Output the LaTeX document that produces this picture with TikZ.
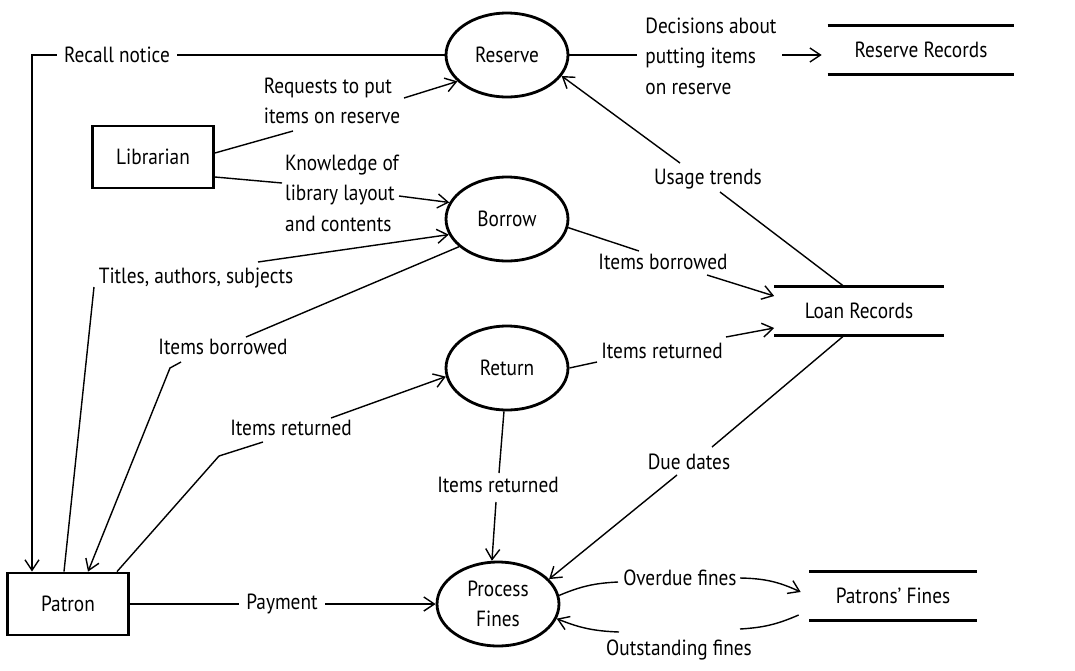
\documentclass[tikz,border=0pt]{standalone}
\usepackage{fontspec}
\setmainfont{PT Sans}[FakeStretch=0.88]
\usepackage{tikz}
\usetikzlibrary{arrows.meta,shapes.geometric,positioning}
\tikzset{
>={Straight Barb[length=6pt,width=8pt]},
  process/.style={
    ellipse,
    draw=black, line width=1.6pt,
    minimum width=2.44cm,
    minimum height=1.68cm,
    inner sep=0pt,
    align=center},
  entity/.style={
    rectangle,
    draw=black, line width=1.6pt,
    minimum width=2.42cm,
    minimum height=1.24cm},
  store/.style={
    rectangle,
    minimum height=0.97cm},
  storeline/.style={draw, line width=1.6pt},
  flow/.style={draw, line width=0.8pt},
  flowlabel/.style={inner sep=4pt, align=left},
}

\begin{document}
\begin{tikzpicture}
  [x=0.02cm, y=-0.02cm, font=\fontsize{12.5}{17.3}\selectfont]
  \useasboundingbox (0,0) rectangle (1075,670);

  % processes
  \node[process] (reserve) at (507,55)  {Reserve};
  \node[process] (borrow)  at (507,219) {Borrow};
  \node[process] (return)  at (507,368) {Return};
  \node[process] (fines)   at (498,604) {Process\\Fines};

  % external entities
  \node[entity] (librarian) at (153,157) {Librarian};
  \node[entity] (patron)    at (68,604)  {Patron};

  % data stores
  \node[store, minimum width=3.72cm] (resrec)  at (921,50)  {Reserve Records};
  \node[store, minimum width=3.38cm] (loanrec) at (859,311) {Loan Records};
  \node[store, minimum width=3.34cm] (finerec) at (893,596) {Patrons’ Fines};
  \foreach \s in {resrec,loanrec,finerec}
    \draw[storeline] (\s.north west) -- (\s.north east)
                     (\s.south west) -- (\s.south east);

  % flow labels
  \node[flowlabel] (lrecall)  at (117,55)  {Recall notice};
  \node[flowlabel] (lrequest) at (332,101) {Requests to put\\items on reserve};
  \node[flowlabel] (lknow)    at (342,193) {Knowledge of\\library layout\\and contents};
  \node[flowlabel] (ltitles)  at (196,278) {Titles, authors, subjects};
  \node[flowlabel] (lborp)    at (223,347) {Items borrowed};
  \node[flowlabel] (lretp)    at (291,428) {Items returned};
  \node[flowlabel] (lpay)     at (282,604) {Payment};
  \node[flowlabel] (lretf)    at (498,485) {Items returned};
  \node[flowlabel] (lborl)    at (663,262) {Items borrowed};
  \node[flowlabel] (lretl)    at (662,351) {Items returned};
  \node[flowlabel] (lusage)   at (708,179) {Usage trends};
  \node[flowlabel] (ldecide)  at (711,56)  {Decisions about\\putting items\\on reserve};
  \node[flowlabel] (ldue)     at (689,462) {Due dates};
  \node[flowlabel] (lover)    at (680,578) {Overdue fines};
  \node[flowlabel] (lout)     at (679,650) {Outstanding fines};

  % break points of the flows
  \coordinate (req-in)  at (293,131); \coordinate (req-out) at (404,98);
  \coordinate (know-in) at (282,183); \coordinate (know-out) at (399,196);
  \coordinate (tit-in)  at (94,287);  \coordinate (tit-out) at (258,262);
  \coordinate (bp-in)   at (246,337); \coordinate (bp-out)  at (181,362);
  \coordinate (bp-bend) at (170,368);
  \coordinate (rp-bend) at (219,456); \coordinate (rp-in)   at (263,442);
  \coordinate (rp-out)  at (331,418);
  \coordinate (rf-in)   at (499,473); \coordinate (rf-out)  at (496,502);
  \coordinate (bl-in)   at (639,251); \coordinate (bl-out)  at (707,275);
  \coordinate (rl-in)   at (597,362); \coordinate (rl-out)  at (726,337);
  \coordinate (ut-in)   at (720,192); \coordinate (ut-out)  at (680,163);
  \coordinate (dec-in)  at (637,55);  \coordinate (dec-out) at (782,55);
  \coordinate (dd-in)   at (712,447); \coordinate (dd-out)  at (677,475);
  \coordinate (od-in)   at (618,582); \coordinate (od-out)  at (740,578);
  \coordinate (os-in)   at (740,629); \coordinate (os-out)  at (619,632);

  % flows
  \draw[flow] (reserve.west) -- (lrecall.east);
  \draw[flow,->] (lrecall.west) -| ([xshift=-0.72cm]patron.north);
  \draw[flow] ([yshift=0.08cm]librarian.east) -- (req-in);
  \draw[flow,->] (req-out) -- (reserve.208);
  \draw[flow] ([yshift=-0.4cm]librarian.east) -- (know-in);
  \draw[flow,->] (know-out) -- (borrow.164);
  \draw[flow] ([xshift=-0.08cm]patron.north) -- (tit-in);
  \draw[flow,->] (tit-out) -- (borrow.195);
  \draw[flow] (borrow.210) -- (bp-in);
  \draw[flow,->] (bp-out) -- (bp-bend) -- ([xshift=0.4cm]patron.north);
  \draw[flow] ([xshift=0.98cm]patron.north) -- (rp-bend) -- (rp-in);
  \draw[flow,->] (rp-out) -- (return.188);
  \draw[flow] (patron.east) -- (lpay.west);
  \draw[flow,->] (lpay.east) -- (fines.west);
  \draw[flow] (return.266) -- (rf-in);
  \draw[flow,->] (rf-out) -- (fines.98);
  \draw[flow] (borrow.352) -- (bl-in);
  \draw[flow,->] (bl-out) -- ([yshift=0.3cm]loanrec.west);
  \draw[flow] (return.east) -- (rl-in);
  \draw[flow,->] (rl-out) -- ([yshift=-0.34cm]loanrec.west);
  \draw[flow] ([xshift=-0.3cm]loanrec.north) -- (ut-in);
  \draw[flow,->] (ut-out) -- (reserve.339);
  \draw[flow] (reserve.east) -- (dec-in);
  \draw[flow,->,shorten >=0.12cm] (dec-out) -- (dec-out -| resrec.west);
  \draw[flow] ([xshift=-0.3cm]loanrec.south) -- (dd-in);
  \draw[flow,->] (dd-out) -- (fines.26);
  \draw[flow] (fines.8) to[bend left=10] (od-in);
  \draw[flow,->] (od-out) to[bend left=12] ([xshift=-0.17cm,yshift=0.08cm]finerec.west);
  \draw[flow] ([xshift=-0.21cm,yshift=-0.38cm]finerec.west) to[bend left=10] (os-in);
  \draw[flow,->] (os-out) to[bend left=10] (fines.346);
\end{tikzpicture}
\end{document}
